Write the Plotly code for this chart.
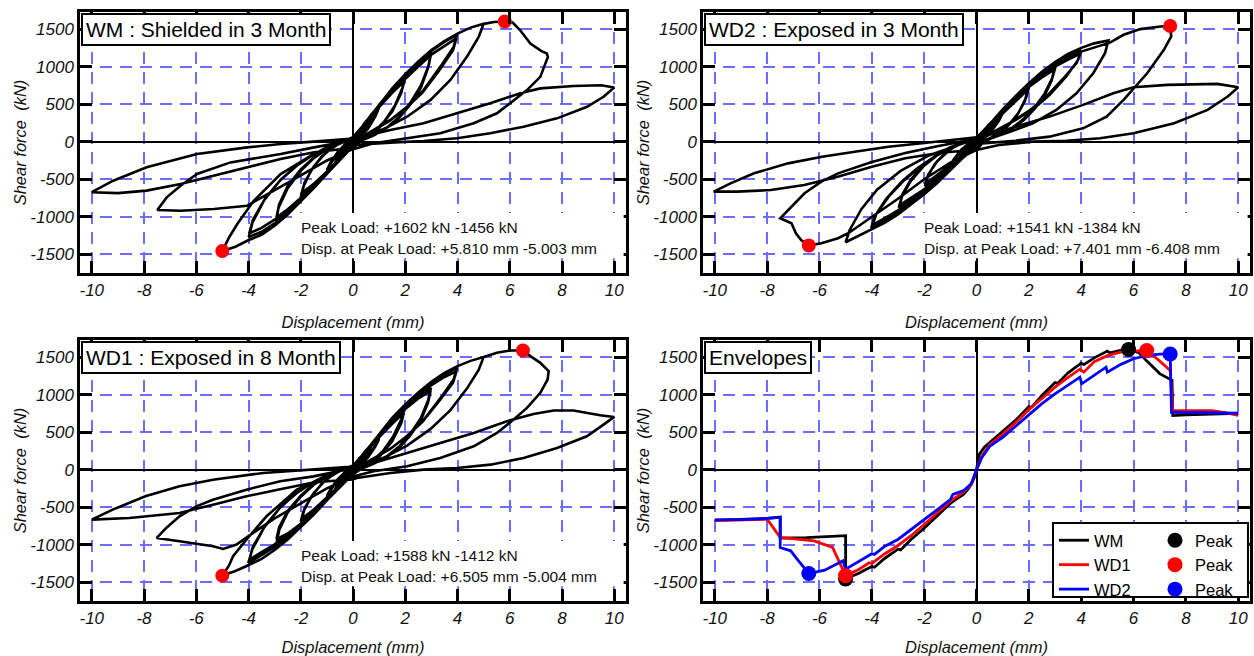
import plotly.graph_objects as go

# ---------------- data ----------------
x_tick_vals = [-10, -8, -6, -4, -2, 0, 2, 4, 6, 8, 10]
x_tick_text = ["-10", "-8", "-6", "-4", "-2", "0", "2", "4", "6", "8", "10"]
y_tick_vals = [-1500, -1000, -500, 0, 500, 1000, 1500]
y_tick_text = ["-1500", "-1000", "-500", "0", "500", "1000", "1500"]

panel_titles = ["WM : Shielded in 3 Month", "WD2 : Exposed in 3 Month",
                "WD1 : Exposed in 8 Month", "Envelopes"]
peak_text_wm = ["Peak Load: +1602 kN -1456 kN", "Disp. at Peak Load: +5.810 mm -5.003 mm"]
peak_text_wd2 = ["Peak Load: +1541 kN -1384 kN", "Disp. at Peak Load: +7.401 mm -6.408 mm"]
peak_text_wd1 = ["Peak Load: +1588 kN -1412 kN", "Disp. at Peak Load: +6.505 mm -5.004 mm"]

peak_disp_wm = [5.810, -5.003]
peak_force_wm = [1602, -1456]
peak_disp_wd1 = [6.505, -5.004]
peak_force_wd1 = [1588, -1412]
peak_disp_wd2 = [7.401, -6.408]
peak_force_wd2 = [1541, -1384]

# WM hysteresis (displacement mm, shear force kN), cycle by cycle
wm_disp = [
    0, 0.12, 0.25, 0.18, 0.05, -0.05, -0.12, -0.25, -0.18, -0.05, 0,
    0.15, 0.3, 0.5, 0.4, 0.2, 0, -0.15, -0.3, -0.5, -0.4, -0.2, 0,
    0.15, 0.3, 0.5, 0.42, 0.22, 0, -0.15, -0.3, -0.5, -0.42, -0.22, 0,
    0.2, 0.45, 0.75, 0.62, 0.35, 0.1, -0.1, -0.4, -0.75, -0.62, -0.35, -0.1,
    0.1, 0.4, 0.7, 1.0, 0.85, 0.55, 0.25, 0, -0.3, -0.65, -1.0, -0.85, -0.55, -0.25,
    0.1, 0.4, 0.7, 1.0, 0.86, 0.58, 0.28, 0, -0.3, -0.65, -1.0, -0.86, -0.58, -0.28,
    0, 0.5, 1.0, 1.5, 2.0, 1.9, 1.6, 1.2, 0.8, 0.4, 0, -0.5, -1.0, -1.5, -2.0, -1.9, -1.6, -1.2, -0.8, -0.4,
    0, 0.5, 1.0, 1.5, 1.95, 1.85, 1.5, 1.0, 0.5, 0, -0.5, -1.0, -1.5, -1.95, -1.85, -1.5, -1.0, -0.5,
    0, 0.5, 1.0, 1.5, 2.0, 2.5, 3.0, 2.9, 2.6, 2.2, 1.8, 1.3, 0.8, 0.3, 0, -0.5, -1.0, -1.5, -2.0, -2.5, -2.95, -2.85, -2.5, -2.0, -1.5, -1.0, -0.5,
    0, 0.5, 1.0, 1.5, 2.0, 2.5, 2.97, 2.87, 2.6, 2.2, 1.8, 1.3, 0.8, 0.3, 0, -0.5, -1.0, -1.5, -2.0, -2.5, -2.93, -2.83, -2.5, -2.0, -1.5, -1.0, -0.5,
    0, 0.5, 1.0, 1.5, 2.0, 2.5, 3.0, 3.5, 3.98, 3.85, 3.34, 2.7, 2.07, 1.43, 0.79, 0.15, 0, -0.5, -1.0, -1.5, -2.0, -2.5, -3.0, -3.5, -3.99, -3.85, -3.4, -2.8, -2.2, -1.6, -1.0, -0.5,
    0, 0.5, 1.0, 1.5, 2.0, 2.5, 3.0, 3.5, 3.96, 3.83, 3.3, 2.65, 2.0, 1.4, 0.75, 0.15, 0, -0.5, -1.0, -1.5, -2.0, -2.5, -3.0, -3.5, -3.97, -3.83, -3.35, -2.75, -2.15, -1.55, -1.0, -0.5,
    0, 0.5, 1.0, 1.5, 2.0, 2.5, 3.0, 3.5, 4.0, 4.5, 5.0, 4.81, 4.36, 3.72, 2.96, 2.07, 1.3, 0.6, 0, -0.5, -1.0, -1.5, -2.0, -2.5, -3.0, -3.5, -4.05, -4.5, -5.0, -4.75, -4.43, -3.8, -2.77, -1.5, -0.6,
    0, 0.5, 1.0, 1.5, 2.0, 2.5, 3.0, 3.5, 4.0, 4.5, 5.0, 5.4, 5.81, 6.1, 6.4, 6.79, 7.2, 7.42, 7.46, 7.17, 6.66, 6.15, 5.51, 4.62, 3.34, 2.07, 0.79, 0, -1.0, -2.13, -3.28, -4.05, -5.33, -6.6, -7.49, -7.13, -6.6, -5.97, -4.69, -2.77, -1.49,
    0, 0.5, 1.43, 2.7, 3.98, 5.25, 6.4, 7.17, 8.44, 9.5, 10.0, 9.59, 8.96, 7.81, 6.53, 5.25, 3.98, 2.7, 1.43, 0.15, 0, -0.5, -1.49, -2.77, -4.05, -5.33, -6.6, -7.9, -9.0, -10.0, -9.18, -7.9, -5.97, -4.05, -2.77, -1.5, 0,
]
wm_force = [
    0, 80, 150, 90, 20, -20, -70, -130, -80, -15, 10,
    90, 170, 260, 170, 60, -20, -90, -160, -240, -160, -50, 15,
    85, 160, 245, 175, 70, -15, -85, -150, -225, -165, -60, 10,
    120, 250, 370, 260, 110, 0, -60, -190, -330, -230, -90, 0,
    60, 220, 360, 480, 350, 170, 50, -40, -160, -300, -400, -290, -130, -20,
    55, 210, 345, 455, 340, 175, 55, -35, -150, -285, -380, -280, -135, -25,
    40, 250, 480, 690, 860, 720, 480, 270, 130, 40, -50, -230, -420, -600, -740, -600, -380, -200, -80, 0,
    60, 250, 460, 650, 800, 650, 400, 180, 50, -50, -220, -400, -560, -680, -540, -330, -130, -20,
    60, 260, 490, 700, 880, 1050, 1195, 1020, 750, 520, 340, 190, 90, 10, -60, -230, -420, -610, -790, -940, -1058, -880, -620, -390, -220, -100, -20,
    60, 250, 470, 670, 840, 1000, 1150, 980, 720, 500, 330, 185, 85, 10, -60, -220, -400, -580, -750, -900, -1010, -840, -590, -370, -210, -95, -20,
    60, 260, 490, 700, 890, 1060, 1210, 1330, 1425, 1262, 997, 687, 466, 289, 156, 24, -60, -230, -420, -610, -790, -950, -1090, -1200, -1270, -1080, -780, -520, -330, -190, -80, -10,
    60, 250, 470, 680, 860, 1020, 1160, 1280, 1380, 1220, 950, 650, 440, 275, 145, 20, -60, -220, -400, -590, -760, -910, -1040, -1150, -1220, -1040, -750, -500, -320, -180, -75, -10,
    50, 260, 490, 710, 900, 1070, 1220, 1340, 1440, 1520, 1570, 1396, 1130, 820, 553, 332, 190, 80, -60, -240, -430, -620, -800, -970, -1120, -1240, -1320, -1400, -1456, -1280, -1098, -787, -431, -164, -40,
    50, 260, 490, 710, 900, 1070, 1220, 1340, 1440, 1520, 1570, 1595, 1602, 1590, 1485, 1308, 1210, 1175, 1130, 864, 687, 554, 378, 245, 112, 45, -21, -100, -250, -476, -698, -853, -898, -920, -911, -742, -587, -431, -276, -164, -76,
    20, 80, 156, 245, 378, 511, 644, 710, 741, 751, 723, 598, 465, 311, 199, 112, 45, 9, -13, -40, -80, -100, -140, -231, -342, -453, -564, -652, -685, -673, -520, -342, -164, -76, -31, 0, 40,
]

# WD1 hysteresis
wd1_disp = [
    0, 0.12, 0.25, 0.18, 0.05, -0.05, -0.12, -0.25, -0.18, -0.05, 0,
    0.15, 0.3, 0.5, 0.4, 0.2, 0, -0.15, -0.3, -0.5, -0.4, -0.2, 0,
    0.15, 0.3, 0.5, 0.42, 0.22, 0, -0.15, -0.3, -0.5, -0.42, -0.22, 0,
    0.2, 0.45, 0.75, 0.62, 0.35, 0.1, -0.1, -0.4, -0.75, -0.62, -0.35, -0.1,
    0.1, 0.4, 0.7, 1.0, 0.85, 0.55, 0.25, 0, -0.3, -0.65, -1.0, -0.85, -0.55, -0.25,
    0.1, 0.4, 0.7, 1.0, 0.86, 0.58, 0.28, 0, -0.3, -0.65, -1.0, -0.86, -0.58, -0.28,
    0, 0.5, 1.0, 1.5, 1.95, 1.85, 1.55, 1.15, 0.75, 0.35, 0, -0.5, -1.0, -1.5, -2.0, -1.9, -1.6, -1.2, -0.8, -0.4,
    0, 0.5, 1.0, 1.5, 1.95, 1.85, 1.5, 1.0, 0.5, 0, -0.5, -1.0, -1.5, -1.95, -1.85, -1.5, -1.0, -0.5,
    0, 0.5, 1.0, 1.5, 2.0, 2.5, 2.98, 2.88, 2.6, 2.2, 1.8, 1.3, 0.8, 0.3, 0, -0.5, -1.0, -1.5, -2.0, -2.5, -2.92, -2.82, -2.5, -2.0, -1.5, -1.0, -0.5,
    0, 0.5, 1.0, 1.5, 2.0, 2.5, 2.97, 2.87, 2.6, 2.2, 1.8, 1.3, 0.8, 0.3, 0, -0.5, -1.0, -1.5, -2.0, -2.5, -2.93, -2.83, -2.5, -2.0, -1.5, -1.0, -0.5,
    0, 0.5, 1.0, 1.5, 2.0, 2.5, 3.0, 3.5, 3.98, 3.85, 3.34, 2.7, 2.07, 1.43, 0.79, 0.15, 0, -0.5, -1.0, -1.5, -2.0, -2.5, -3.0, -3.5, -4.01, -3.85, -3.4, -2.8, -2.2, -1.6, -1.0, -0.5,
    0, 0.5, 1.0, 1.5, 2.0, 2.5, 3.0, 3.5, 3.96, 3.83, 3.3, 2.65, 2.0, 1.4, 0.75, 0.15, 0, -0.5, -1.0, -1.5, -2.0, -2.5, -3.0, -3.5, -3.97, -3.83, -3.35, -2.75, -2.15, -1.55, -1.0, -0.5,
    0, 0.5, 1.0, 1.5, 2.0, 2.5, 3.0, 3.5, 4.0, 4.5, 5.0, 4.81, 4.36, 3.72, 2.96, 2.07, 1.3, 0.6, 0, -0.5, -1.0, -1.5, -2.0, -2.5, -3.0, -3.5, -4.05, -4.5, -5.0, -4.75, -4.59, -4.08, -3.31, -2.15, -0.8,
    0, 0.5, 1.0, 1.5, 2.0, 2.5, 3.0, 3.5, 4.0, 4.5, 5.0, 5.51, 6.02, 6.5, 6.79, 7.17, 7.49, 7.45, 7.17, 6.66, 6.15, 5.51, 4.62, 3.34, 2.07, 0.79, 0, -1.0, -2.0, -3.0, -3.82, -4.46, -4.97, -5.36, -6.64, -7.51, -7.15, -6.64, -6.0, -5.36, -4.08, -2.79, -1.51,
    0, 0.79, 2.07, 3.34, 4.62, 5.89, 6.91, 7.68, 8.44, 9.46, 10.0, 9.59, 8.95, 7.81, 6.53, 5.26, 3.98, 2.7, 1.43, 0.15, 0, -0.5, -1.51, -2.79, -4.08, -5.36, -6.64, -8.56, -10.0, -9.2, -7.95, -6.64, -5.36, -3.44, -1.5, 0,
]
wd1_force = [
    0, 80, 160, 100, 20, -20, -70, -140, -90, -15, 10,
    90, 170, 250, 165, 55, -20, -90, -160, -230, -150, -45, 15,
    85, 160, 240, 170, 65, -15, -85, -150, -220, -160, -55, 10,
    115, 240, 350, 250, 100, 0, -60, -180, -310, -215, -85, 0,
    55, 210, 340, 430, 320, 160, 45, -40, -150, -280, -370, -270, -120, -20,
    50, 200, 325, 410, 310, 165, 50, -35, -140, -265, -350, -260, -125, -25,
    40, 240, 450, 640, 800, 670, 450, 250, 120, 35, -50, -220, -400, -560, -690, -560, -360, -190, -75, 0,
    55, 235, 430, 610, 760, 620, 380, 170, 45, -50, -210, -380, -530, -650, -510, -310, -120, -15,
    55, 250, 470, 670, 850, 990, 1090, 930, 690, 480, 320, 180, 85, 10, -60, -220, -400, -580, -750, -880, -960, -800, -570, -360, -200, -90, -15,
    55, 240, 450, 640, 810, 950, 1050, 890, 660, 460, 305, 170, 80, 10, -60, -210, -385, -560, -720, -850, -925, -770, -550, -345, -190, -85, -15,
    55, 250, 470, 680, 860, 1020, 1160, 1270, 1357, 1200, 950, 660, 450, 280, 150, 20, -60, -220, -400, -580, -750, -900, -1030, -1140, -1243, -1060, -770, -510, -320, -180, -75, -10,
    55, 240, 455, 660, 835, 990, 1125, 1235, 1310, 1160, 915, 635, 430, 270, 145, 20, -60, -210, -385, -560, -725, -870, -995, -1100, -1200, -1025, -740, -490, -310, -175, -70, -10,
    50, 250, 470, 690, 870, 1030, 1170, 1290, 1380, 1450, 1500, 1330, 1080, 790, 540, 320, 180, 75, -60, -230, -410, -600, -770, -930, -1070, -1190, -1280, -1350, -1411, -1280, -1154, -932, -621, -266, -60,
    50, 250, 470, 690, 870, 1030, 1170, 1290, 1380, 1450, 1500, 1558, 1589, 1589, 1513, 1424, 1313, 1202, 1024, 823, 668, 490, 312, 156, 45, -22, -90, -250, -450, -650, -843, -998, -1056, -1021, -954, -910, -777, -621, -488, -400, -266, -155, -89,
    20, 89, 223, 356, 490, 645, 743, 788, 788, 725, 703, 601, 445, 289, 156, 67, 22, 0, -45, -111, -130, -140, -170, -260, -355, -466, -577, -644, -666, -533, -355, -222, -133, -44, 0, 40,
]

# WD2 hysteresis
wd2_disp = [
    0, 0.12, 0.25, 0.18, 0.05, -0.05, -0.12, -0.25, -0.18, -0.05, 0,
    0.15, 0.3, 0.5, 0.4, 0.2, 0, -0.15, -0.3, -0.5, -0.4, -0.2, 0,
    0.15, 0.3, 0.5, 0.42, 0.22, 0, -0.15, -0.3, -0.5, -0.42, -0.22, 0,
    0.2, 0.45, 0.75, 0.62, 0.35, 0.1, -0.1, -0.4, -0.75, -0.62, -0.35, -0.1,
    0.1, 0.4, 0.7, 1.0, 0.85, 0.55, 0.25, 0, -0.3, -0.65, -1.0, -0.85, -0.55, -0.25,
    0.1, 0.4, 0.7, 1.0, 0.86, 0.58, 0.28, 0, -0.3, -0.65, -1.0, -0.86, -0.58, -0.28,
    0, 0.5, 1.0, 1.5, 2.02, 1.9, 1.6, 1.2, 0.8, 0.4, 0, -0.5, -1.0, -1.5, -1.97, -1.87, -1.6, -1.2, -0.8, -0.4,
    0, 0.5, 1.0, 1.5, 1.95, 1.85, 1.5, 1.0, 0.5, 0, -0.5, -1.0, -1.5, -1.95, -1.85, -1.5, -1.0, -0.5,
    0, 0.5, 1.0, 1.5, 2.0, 2.5, 3.02, 2.9, 2.6, 2.2, 1.8, 1.3, 0.8, 0.3, 0, -0.5, -1.0, -1.5, -2.0, -2.5, -2.97, -2.85, -2.5, -2.0, -1.5, -1.0, -0.5,
    0, 0.5, 1.0, 1.5, 2.0, 2.5, 2.97, 2.87, 2.6, 2.2, 1.8, 1.3, 0.8, 0.3, 0, -0.5, -1.0, -1.5, -2.0, -2.5, -2.93, -2.83, -2.5, -2.0, -1.5, -1.0, -0.5,
    0, 0.5, 1.0, 1.5, 2.0, 2.5, 3.0, 3.5, 4.01, 3.88, 3.43, 2.79, 2.15, 1.5, 0.86, 0.22, 0, -0.5, -1.0, -1.5, -2.0, -2.5, -3.0, -3.5, -4.02, -3.9, -3.45, -2.85, -2.25, -1.6, -1.0, -0.5,
    0, 0.5, 1.0, 1.5, 2.0, 2.5, 3.0, 3.5, 3.96, 3.83, 3.3, 2.65, 2.0, 1.4, 0.75, 0.15, 0, -0.5, -1.0, -1.5, -2.0, -2.5, -3.0, -3.5, -3.97, -3.83, -3.35, -2.75, -2.15, -1.55, -1.0, -0.5,
    0, 0.5, 1.0, 1.5, 2.0, 2.5, 3.0, 3.5, 4.0, 4.5, 5.04, 4.91, 4.46, 3.82, 3.05, 2.15, 1.12, 0.3, 0, -0.5, -1.0, -1.5, -2.0, -2.5, -3.0, -3.5, -4.0, -4.5, -5.0, -4.85, -4.4, -3.8, -2.9, -1.8, -0.7,
    0, 0.5, 1.0, 2.0, 3.0, 4.0, 4.6, 5.1, 5.62, 6.26, 7.03, 7.4, 7.44, 7.16, 6.52, 6.0, 5.62, 4.97, 4.07, 2.79, 1.5, 0.22, 0, -1.0, -2.0, -3.0, -4.0, -4.9, -5.29, -5.93, -6.41, -6.7, -6.9, -7.07, -7.5, -7.2, -6.57, -5.93, -5.29, -4.0, -2.72, -1.5,
    0, 1.5, 2.79, 4.07, 5.23, 6.0, 7.29, 9.2, 10.0, 9.6, 8.83, 7.55, 6.0, 4.72, 3.43, 2.15, 0.86, 0, -0.5, -1.44, -2.72, -4.0, -5.3, -6.58, -7.86, -9.14, -10.04, -9.4, -8.5, -7.2, -5.9, -4.65, -3.36, -2.08, 0,
]
wd2_force = [
    0, 70, 140, 85, 15, -20, -60, -120, -75, -10, 10,
    80, 150, 230, 150, 50, -20, -80, -140, -210, -140, -40, 15,
    75, 140, 215, 155, 60, -15, -75, -130, -195, -145, -50, 10,
    105, 220, 320, 220, 90, 0, -55, -165, -280, -190, -75, 0,
    50, 190, 310, 400, 290, 140, 40, -40, -140, -250, -340, -240, -100, -15,
    45, 180, 295, 380, 280, 145, 45, -35, -130, -235, -320, -230, -105, -20,
    40, 220, 400, 580, 743, 590, 380, 210, 100, 30, -50, -190, -340, -470, -592, -470, -300, -150, -60, 0,
    50, 210, 380, 540, 690, 540, 320, 140, 35, -50, -180, -320, -450, -560, -440, -260, -100, -10,
    50, 230, 420, 600, 760, 890, 1001, 850, 640, 450, 300, 170, 80, 10, -60, -200, -360, -520, -660, -780, -880, -730, -520, -320, -180, -80, -10,
    50, 220, 400, 575, 730, 855, 960, 815, 615, 430, 285, 160, 75, 10, -60, -190, -345, -500, -635, -750, -845, -700, -500, -305, -170, -75, -10,
    50, 230, 430, 610, 770, 910, 1040, 1140, 1215, 1090, 868, 620, 430, 290, 160, 40, -60, -200, -370, -530, -680, -820, -950, -1060, -1150, -1000, -760, -530, -350, -200, -90, -10,
    50, 220, 410, 585, 740, 875, 1000, 1095, 1170, 1050, 835, 595, 410, 275, 150, 35, -60, -190, -355, -510, -655, -790, -915, -1020, -1110, -965, -730, -510, -335, -190, -85, -10,
    50, 230, 430, 610, 780, 930, 1060, 1170, 1250, 1310, 1348, 1179, 912, 645, 423, 245, 111, 20, -60, -210, -380, -550, -700, -840, -970, -1080, -1170, -1260, -1340, -1180, -900, -640, -390, -180, -40,
    40, 220, 410, 740, 1000, 1200, 1270, 1320, 1424, 1500, 1535, 1541, 1402, 1224, 912, 712, 556, 334, 178, 67, 13, -22, -110, -280, -500, -760, -1000, -1220, -1287, -1354, -1384, -1310, -1220, -1088, -1021, -910, -688, -533, -422, -270, -150, -60,
    40, 200, 334, 490, 645, 725, 757, 770, 725, 601, 423, 245, 111, 45, 13, 0, -45, -111, -120, -150, -222, -333, -466, -577, -644, -666, -666, -555, -422, -289, -200, -133, -67, -22, 60,
]

# Envelopes
env_wm_disp = [-10, -9, -8, -7.5, -7.5, -6.5, -5.5, -5.0, -5.0, -4.5, -4.0, -3.9, -3.5, -3.0, -2.9, -2.5, -2.0,
               -1.5, -1.0, -0.8, -0.5, -0.3, -0.1, 0, 0.1, 0.3, 0.5, 0.8, 1.0, 1.5, 2.0, 2.1, 2.5, 3.0, 3.1,
               3.5, 4.0, 4.1, 4.5, 5.0, 5.1, 5.5, 5.81, 6.2, 6.5, 7.0, 7.47, 7.5, 8.0, 9.0, 10.0]
env_wm_force = [-672, -665, -650, -632, -912, -905, -890, -880, -1456, -1380, -1290, -1300, -1180, -1060, -1070, -930, -780,
                -610, -450, -400, -330, -250, -120, 0, 200, 300, 360, 440, 500, 660, 840, 830, 990, 1160, 1150,
                1290, 1420, 1400, 1490, 1580, 1555, 1590, 1602, 1560, 1450, 1280, 1190, 720, 730, 740, 750]
env_wd1_disp = [-10, -9, -8, -7.5, -6.2, -5.5, -5.0, -4.5, -4.1, -4.0, -3.5, -3.0, -2.5, -2.0, -1.5, -1.0, -0.5,
                -0.2, 0, 0.2, 0.5, 1.0, 1.5, 2.0, 2.5, 3.0, 3.5, 3.95, 4.1, 4.5, 5.0, 5.5, 6.0, 6.505, 6.9,
                7.4, 7.5, 8.0, 9.0, 9.5, 10.0]
env_wd1_force = [-680, -670, -660, -903, -948, -1037, -1412, -1330, -1240, -1250, -1120, -1010, -880, -730, -580, -420, -300,
                 -200, 0, 180, 330, 470, 630, 800, 950, 1100, 1230, 1340, 1300, 1440, 1520, 1566, 1580, 1588, 1478,
                 1322, 790, 790, 785, 760, 725]
env_wd2_disp = [-10, -9, -8, -7.5, -7.5, -7.1, -6.8, -6.408, -5.8, -5.1, -5.0, -4.5, -4.0, -3.9, -3.5, -3.0, -2.5,
                -2.0, -1.5, -1.0, -0.9, -0.5, -0.2, 0, 0.2, 0.5, 1.0, 1.5, 2.0, 2.5, 3.0, 3.5, 3.95, 4.02, 4.5,
                4.95, 5.0, 5.5, 6.0, 6.5, 7.0, 7.401, 7.45, 8.0, 9.0, 10.0]
env_wd2_force = [-668, -665, -650, -636, -1037, -1081, -1215, -1384, -1340, -1215, -1326, -1220, -1120, -1130, -1020, -930, -800,
                 -670, -540, -400, -330, -280, -190, 0, 160, 310, 430, 580, 740, 880, 1010, 1130, 1233, 1144, 1260,
                 1366, 1300, 1400, 1478, 1520, 1540, 1541, 765, 760, 758, 752]

series_names = ["WM", "WD1", "WD2"]
series_colors = ["#000000", "#ff0000", "#0000ff"]

# ---------------- layout geometry ----------------
W, H = 1254, 656
col_dom = [[80 / W, 626 / W], [703 / W, 1250 / W]]
row_dom = [[1 - 273 / H, 1 - 12 / H], [1 - 601 / H, 1 - 340 / H]]
x_range = [-10.45, 10.45]
y_range = [-1750, 1728]

FONT = "Liberation Sans, Arial, sans-serif"
GRID = "#6c6cff"

fig = go.Figure()

hyst = [
    (wm_disp, wm_force, peak_disp_wm, peak_force_wm, "x", "y"),
    (wd2_disp, wd2_force, peak_disp_wd2, peak_force_wd2, "x2", "y2"),
    (wd1_disp, wd1_force, peak_disp_wd1, peak_force_wd1, "x3", "y3"),
]
for d, f, pdx, pfy, xa, ya in hyst:
    fig.add_trace(go.Scatter(x=d, y=f, mode="lines", line=dict(color="black", width=2.6),
                             xaxis=xa, yaxis=ya, showlegend=False, hoverinfo="skip"))
    fig.add_trace(go.Scatter(x=pdx, y=pfy, mode="markers", marker=dict(color="#ff0000", size=14),
                             xaxis=xa, yaxis=ya, showlegend=False))

env = [(env_wm_disp, env_wm_force, peak_disp_wm, peak_force_wm),
       (env_wd1_disp, env_wd1_force, peak_disp_wd1, peak_force_wd1),
       (env_wd2_disp, env_wd2_force, peak_disp_wd2, peak_force_wd2)]
for (d, f, _, _), name, c in zip(env, series_names, series_colors):
    fig.add_trace(go.Scatter(x=d, y=f, mode="lines", name=name, line=dict(color=c, width=2.8),
                             xaxis="x4", yaxis="y4", legend="legend"))
for (_, _, pdx, pfy), c in zip(env, series_colors):
    fig.add_trace(go.Scatter(x=pdx, y=pfy, mode="markers", name="Peak", marker=dict(color=c, size=15),
                             xaxis="x4", yaxis="y4", legend="legend2"))


def xaxis(dom, anchor):
    return dict(domain=dom, anchor=anchor, range=x_range, tickvals=x_tick_vals, ticktext=x_tick_text,
                ticks="inside", ticklen=12, tickwidth=2.5, tickcolor="black",
                showline=True, linewidth=2.5, linecolor="black", mirror="ticks",
                showgrid=True, gridcolor=GRID, gridwidth=1.6, griddash="12px,8px",
                zeroline=True, zerolinecolor="black", zerolinewidth=2,
                tickfont=dict(family=FONT, size=17, style="italic", color="#111111"),
                title=dict(text="Displacement (mm)", standoff=18,
                           font=dict(family=FONT, size=16.5, style="italic", color="#111111")),
                automargin=False, fixedrange=True)


def yaxis(dom, anchor):
    return dict(domain=dom, anchor=anchor, range=y_range, tickvals=y_tick_vals, ticktext=y_tick_text,
                ticks="inside", ticklen=12, tickwidth=2.5, tickcolor="black",
                showline=True, linewidth=2.5, linecolor="black", mirror="ticks",
                showgrid=True, gridcolor=GRID, gridwidth=1.6, griddash="12px,8px",
                zeroline=True, zerolinecolor="black", zerolinewidth=2,
                tickfont=dict(family=FONT, size=17, style="italic", color="#111111"),
                title=dict(text="Shear force\u00a0 (kN)", standoff=0,
                           font=dict(family=FONT, size=16.5, style="italic", color="#111111")),
                automargin=False, fixedrange=True)


layout = dict(
    width=W, height=H, margin=dict(l=0, r=0, t=0, b=0), template="none",
    paper_bgcolor="white", plot_bgcolor="white", font=dict(family=FONT, color="black"),
    xaxis=xaxis(col_dom[0], "y"), yaxis=yaxis(row_dom[0], "x"),
    xaxis2=xaxis(col_dom[1], "y2"), yaxis2=yaxis(row_dom[0], "x2"),
    xaxis3=xaxis(col_dom[0], "y3"), yaxis3=yaxis(row_dom[1], "x3"),
    xaxis4=xaxis(col_dom[1], "y4"), yaxis4=yaxis(row_dom[1], "x4"),
    showlegend=True,
    legend=dict(x=1054 / W, y=1 - 523 / H, xanchor="left", yanchor="top", bgcolor="rgba(0,0,0,0)",
                borderwidth=0, font=dict(family=FONT, size=16.5), itemwidth=30, tracegroupgap=0),
    legend2=dict(x=1155 / W, y=1 - 523 / H, xanchor="left", yanchor="top", bgcolor="rgba(0,0,0,0)",
                 borderwidth=0, font=dict(family=FONT, size=16.5), itemwidth=30, tracegroupgap=0),
)
fig.update_layout(**layout)

shapes = []
annotations = []
axes_pairs = [("x", "y"), ("x2", "y2"), ("x3", "y3"), ("x4", "y4")]
texts = [peak_text_wm, peak_text_wd2, peak_text_wd1]
for (xa, ya), t in zip(axes_pairs[:3], texts):
    shapes.append(dict(type="rect", xref=xa, yref=ya, x0=-2.2, x1=10.36, y0=-1552, y1=-952,
                       fillcolor="white", line=dict(width=0), layer="above"))
    annotations.append(dict(xref=xa, yref=ya, x=-2.08, y=-1150, text=t[0], showarrow=False,
                            xanchor="left", yanchor="middle", font=dict(family=FONT, size=15.5, color="#111111")))
    annotations.append(dict(xref=xa, yref=ya, x=-2.08, y=-1428, text=t[1], showarrow=False,
                            xanchor="left", yanchor="middle", font=dict(family=FONT, size=15.5, color="#111111")))

for (xa, ya), title in zip(axes_pairs, panel_titles):
    annotations.append(dict(xref=xa + " domain", yref=ya + " domain", x=0.002, y=0.997, text=title,
                            showarrow=False, xanchor="left", yanchor="top",
                            font=dict(family=FONT, size=21, color="black"),
                            bgcolor="white", bordercolor="black", borderwidth=2, borderpad=3))

# legend frame
shapes.append(dict(type="rect", xref="paper", yref="paper", x0=1053 / W, x1=1248 / W,
                   y0=1 - 597 / H, y1=1 - 523 / H, fillcolor="white",
                   line=dict(color="black", width=2), layer="above"))

fig.update_layout(shapes=shapes, annotations=annotations)
fig.write_html("out.html")
